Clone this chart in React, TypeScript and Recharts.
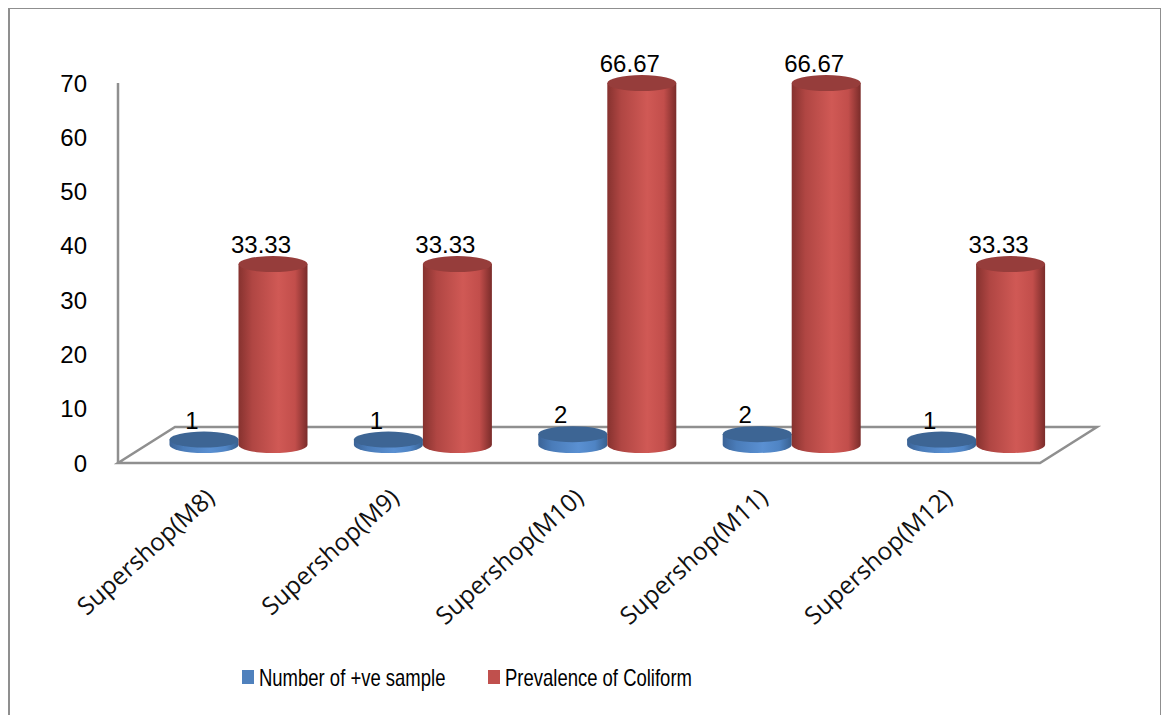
import React from 'react';
import * as R from 'recharts';
import { BarChart, Bar, XAxis, YAxis, Legend, LabelList } from 'recharts';

// Categories and series values
const categories = ['Supershop(M8)', 'Supershop(M9)', 'Supershop(M10)', 'Supershop(M11)', 'Supershop(M12)'];
const positiveSamples = [1, 1, 2, 2, 1];
const coliformPrevalence = [33.33, 33.33, 66.67, 66.67, 33.33];
const yTicks = [0, 10, 20, 30, 40, 50, 60, 70];
const seriesNames = ['Number of +ve sample', 'Prevalence of Coliform'];

const data = categories.map((name, i) => ({
  name,
  positive: positiveSamples[i],
  prevalence: coliformPrevalence[i],
}));

// 3D look: floor depth and the shift of bars to the middle of the floor
const DEPTH_X = 57;
const DEPTH_Y = 36;
const MID_X = DEPTH_X / 2;
const MID_Y = DEPTH_Y / 2;
const RY = 8;

const CHART_W = 1154;
const CHART_H = 708;
const MARGIN = { top: 76, right: 122, left: 40, bottom: 102 };

const usePlotAreaSafe: () => any = (R as any).usePlotArea || (() => undefined);

const AXIS_FONT = '"Liberation Sans", Arial, sans-serif';

const PALETTE = {
  red: {
    grad: 'redSide',
    stops: ['#86322f', '#b04643', '#d05955', '#c24e4b', '#7a2c2a'],
    top: '#963d3b',
  },
  blue: {
    grad: 'blueSide',
    stops: ['#3b6396', '#4a7cb9', '#5a90d2', '#4f84c4', '#38608f'],
    top: '#3d6594',
  },
};

function Cylinder(props: any) {
  const { x, y, width, height, kind } = props;
  if (x == null || y == null) return null;
  const p = PALETTE[kind as 'red' | 'blue'];
  const rx = width / 2;
  const left = x + MID_X;
  const right = left + width;
  const cx = left + rx;
  const top = y - MID_Y;
  const bottom = y + height - MID_Y;
  const side = `M${left},${top} L${left},${bottom} A${rx},${RY} 0 0 0 ${right},${bottom} L${right},${top} Z`;
  return (
    <g>
      <path d={side} fill={`url(#${p.grad})`} />
      <ellipse cx={cx} cy={top} rx={rx} ry={RY} fill={p.top} />
    </g>
  );
}

function CylLabel(props: any) {
  const { x, y, width, value } = props;
  if (x == null || y == null) return null;
  const cx = x + MID_X + width / 2 - 12;
  const top = y - MID_Y;
  return (
    <text x={cx} y={top - RY - 3} textAnchor="middle" fontFamily={AXIS_FONT} fontSize={24} fill="#000">
      {value}
    </text>
  );
}

function Floor() {
  const plot = usePlotAreaSafe();
  const px = plot ? plot.x : MARGIN.left + 70;
  const pw = plot ? plot.width : CHART_W - MARGIN.left - 70 - MARGIN.right;
  const pb = plot ? plot.y + plot.height : 456;
  const pts = [
    [px, pb],
    [px + pw, pb],
    [px + pw + DEPTH_X, pb - DEPTH_Y],
    [px + DEPTH_X, pb - DEPTH_Y],
  ]
    .map((p) => p.join(','))
    .join(' ');
  return <polygon points={pts} fill="none" stroke="#8f8f8f" strokeWidth={2.5} strokeLinejoin="miter" />;
}

function XTick(props: any) {
  const { x, y, payload } = props;
  const ax = x + 6;
  const ay = y + 37;
  return (
    <text
      x={ax}
      y={ay}
      transform={`rotate(-42, ${ax}, ${ay})`}
      textAnchor="end"
      fontFamily="'Open Sans', Lato, sans-serif"
      fontSize={24.5}
      fill="#111"
    >
      {payload.value}
    </text>
  );
}

function LegendContent() {
  const items = [
    { name: seriesNames[0], color: '#4f81bd', sq: 234, tx: 251 },
    { name: seriesNames[1], color: '#c0504d', sq: 480, tx: 497 },
  ];
  return (
    <div style={{ position: 'relative', width: CHART_W, height: 40 }}>
      {items.map((it) => (
        <React.Fragment key={it.name}>
          <div
            style={{
              position: 'absolute',
              left: it.sq,
              top: 8,
              width: 12,
              height: 14,
              background: it.color,
            }}
          />
          <span
            style={{
              position: 'absolute',
              left: it.tx,
              top: 4,
              fontFamily: AXIS_FONT,
              fontSize: 24,
              lineHeight: '24px',
              whiteSpace: 'nowrap',
              color: '#000',
              transform: 'scaleX(0.77)',
              transformOrigin: 'left center',
            }}
          >
            {it.name}
          </span>
        </React.Fragment>
      ))}
    </div>
  );
}

export default function App() {
  return (
    <div style={{ position: 'relative', width: CHART_W, height: CHART_H, marginTop: -1, background: '#fff' }}>
      <BarChart
        width={CHART_W}
        height={CHART_H}
        data={data}
        margin={MARGIN}
        barGap={0}
        barSize={69}
      >
        <defs>
          {(['red', 'blue'] as const).map((k) => (
            <linearGradient key={k} id={PALETTE[k].grad} x1="0" y1="0" x2="1" y2="0">
              <stop offset="0%" stopColor={PALETTE[k].stops[0]} />
              <stop offset="20%" stopColor={PALETTE[k].stops[1]} />
              <stop offset="58%" stopColor={PALETTE[k].stops[2]} />
              <stop offset="82%" stopColor={PALETTE[k].stops[3]} />
              <stop offset="100%" stopColor={PALETTE[k].stops[4]} />
            </linearGradient>
          ))}
        </defs>
        <Floor />
        <XAxis
          dataKey="name"
          axisLine={false}
          tickLine={false}
          tickSize={0}
          tickMargin={0}
          height={150}
          interval={0}
          tick={<XTick />}
        />
        <YAxis
          domain={[0, 70]}
          ticks={yTicks}
          width={70}
          axisLine={{ stroke: '#8f8f8f', strokeWidth: 2.5 }}
          tickLine={false}
          tickSize={0}
          tickMargin={31}
          tick={{ fontFamily: AXIS_FONT, fontSize: 24, fill: '#000' }}
        />
        <Legend
          layout="horizontal"
          verticalAlign="middle"
          align="center"
          content={<LegendContent />}
          wrapperStyle={{ top: 655, left: 0, width: CHART_W, height: 40 }}
        />
        <Bar
          dataKey="positive"
          name={seriesNames[0]}
          fill="#4f81bd"
          isAnimationActive={false}
          shape={(p: any) => <Cylinder {...p} kind="blue" />}
        >
          <LabelList dataKey="positive" content={(p: any) => <CylLabel {...p} />} />
        </Bar>
        <Bar
          dataKey="prevalence"
          name={seriesNames[1]}
          fill="#c0504d"
          isAnimationActive={false}
          shape={(p: any) => <Cylinder {...p} kind="red" />}
        >
          <LabelList dataKey="prevalence" content={(p: any) => <CylLabel {...p} />} />
        </Bar>
      </BarChart>
      <div
        style={{
          position: 'absolute',
          left: 0,
          top: 0,
          width: CHART_W,
          height: CHART_H,
          boxSizing: 'border-box',
          borderTop: '2px solid #8f8f8f',
          borderLeft: '2px solid #8f8f8f',
          borderRight: '2px solid #8f8f8f',
          pointerEvents: 'none',
        }}
      />
    </div>
  );
}
